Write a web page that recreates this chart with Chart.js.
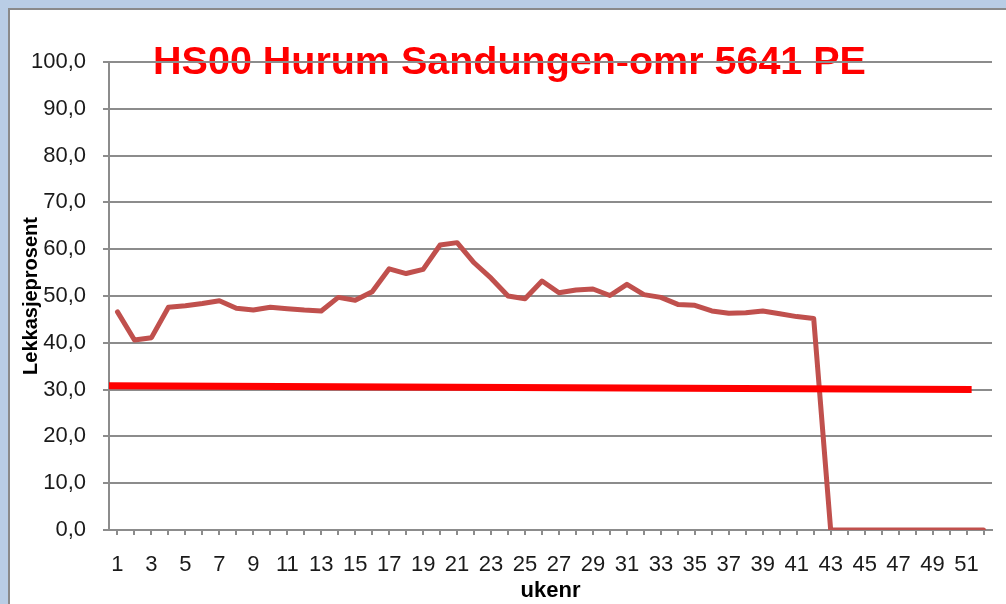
<!DOCTYPE html>
<html>
<head>
<meta charset="utf-8">
<script src="https://cdn.jsdelivr.net/npm/chart.js@4"></script>
<style>
    body { margin: 0; background: #b9cde5; overflow: hidden; }
    #frame {
        position: absolute; left: 8px; top: 8px;
        width: 1100px; height: 700px;
        background: #fff; border: 2px solid #8a8a8a;
    }
    #wrap { position: absolute; left: 0; top: 0; width: 996px; height: 594px; }
</style>
</head>
<body>
<div id="frame"><div id="wrap"><canvas id="chart"></canvas></div></div>
<script>
// Uke 1-52
const weeks = Array.from({ length: 52 }, (_, i) => String(i + 1));

// Lekkasjeprosent per uke
const leakage = [
    46.6, 40.6, 41.1, 47.6, 47.9, 48.4, 49.0, 47.4, 47.0, 47.6,
    47.3, 47.0, 46.8, 49.7, 49.1, 50.9, 55.8, 54.8, 55.7, 60.9,
    61.4, 57.1, 53.8, 50.0, 49.4, 53.2, 50.7, 51.3, 51.5, 50.1,
    52.5, 50.3, 49.7, 48.2, 48.0, 46.8, 46.3, 46.4, 46.8, 46.2,
    45.6, 45.2, 0, 0, 0, 0, 0, 0, 0, 0,
    0, 0
];

// Maalstrek (tegnet linje) - x i ukeenheter fra venstre akse
const targetX = [0, 50.8];
const targetY = [30.8, 30.0];

const TITLE = 'HS00 Hurum Sandungen-omr 5641 PE';
const FONT = '"Liberation Sans", Arial, sans-serif';
const GRID = '#8c8c8c';

// Title drawn under the gridlines, centred on the chart frame
const titlePlugin = {
    id: 'bigTitle',
    beforeDraw(chart) {
        const ctx = chart.ctx;
        ctx.save();
        let size = 40;
        ctx.font = `bold ${size}px ${FONT}`;
        size = size * 713 / ctx.measureText(TITLE).width;
        ctx.font = `bold ${size}px ${FONT}`;
        ctx.fillStyle = '#ff0000';
        ctx.textAlign = 'center';
        ctx.textBaseline = 'alphabetic';
        ctx.fillText(TITLE, 499.5, 64);
        ctx.restore();
    }
};

new Chart(document.getElementById('chart'), {
    type: 'line',
    data: {
        labels: weeks,
        datasets: [
            {
                label: 'Maal',
                data: targetX.map((x, i) => ({ x: x, y: targetY[i] })),
                xAxisID: 'x2',
                borderColor: '#ff0000',
                borderWidth: 7,
                pointRadius: 0,
                borderCapStyle: 'butt'
            },
            {
                label: 'Lekkasjeprosent',
                data: leakage,
                xAxisID: 'x',
                borderColor: '#c0504d',
                borderWidth: 5,
                pointRadius: 0,
                tension: 0,
                borderJoinStyle: 'round',
                borderCapStyle: 'round'
            }
        ]
    },
    options: {
        responsive: true,
        maintainAspectRatio: false,
        animation: false,
        layout: { padding: { left: 0, top: 52, right: 14, bottom: 0 } },
        plugins: {
            legend: { display: false },
            tooltip: { enabled: false },
            title: { display: false }
        },
        scales: {
            x: {
                type: 'category',
                offset: true,
                grid: {
                    drawOnChartArea: false,
                    drawTicks: true,
                    tickLength: 5,
                    color: GRID,
                    lineWidth: 2
                },
                border: { display: true, color: GRID, width: 2 },
                ticks: {
                    autoSkip: false,
                    maxRotation: 0,
                    minRotation: 0,
                    padding: 17,
                    color: '#1a1a1a',
                    font: { family: FONT, size: 22 },
                    callback: (v, i) => (i % 2 === 0 ? weeks[i] : '')
                },
                title: {
                    display: true,
                    text: 'ukenr',
                    color: '#000',
                    padding: { top: 0, bottom: 0 },
                    font: { family: FONT, size: 22, weight: 'bold' }
                },
                afterFit: s => { s.height = 74; }
            },
            x2: {
                type: 'linear',
                display: false,
                min: 0,
                max: 52
            },
            y: {
                min: 0,
                max: 100,
                ticks: {
                    stepSize: 10,
                    padding: 17,
                    color: '#1a1a1a',
                    font: { family: FONT, size: 22 },
                    callback: v => v.toFixed(1).replace('.', ',')
                },
                grid: { color: GRID, lineWidth: 2, tickLength: 6 },
                border: { display: true, color: GRID, width: 2 },
                title: {
                    display: true,
                    text: 'Lekkasjeprosent',
                    color: '#000',
                    padding: { top: 9, bottom: 0 },
                    font: { family: FONT, size: 20, weight: 'bold' }
                },
                afterFit: s => { s.width = 99; }
            }
        }
    },
    plugins: [titlePlugin]
});
</script>
</body>
</html>
